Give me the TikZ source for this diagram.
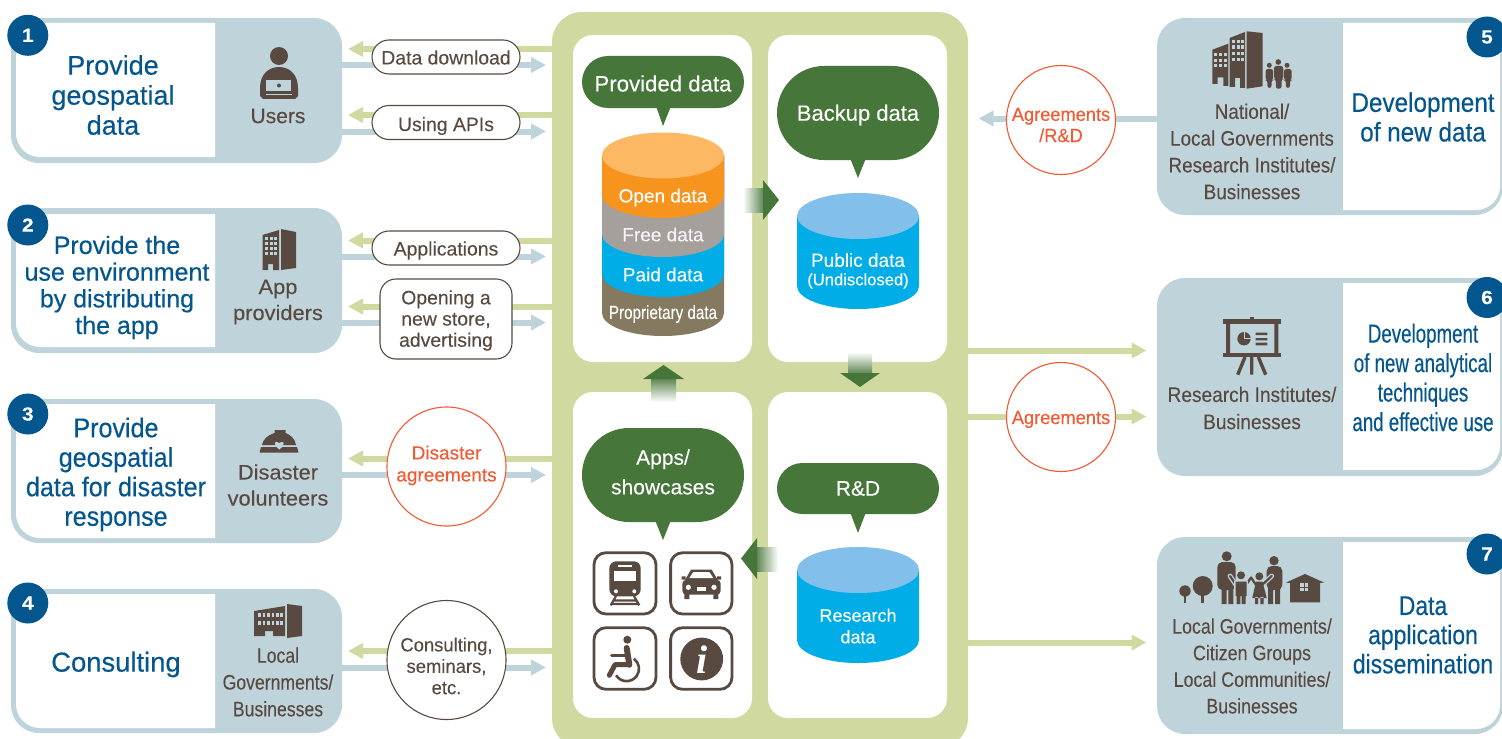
\documentclass[tikz,border=0pt]{standalone}
\usepackage{fontspec}
\setmainfont{Liberation Sans}
\newfontfamily\serifbi{Liberation Serif}[BoldItalicFont=* Bold Italic]
\usetikzlibrary{arrows.meta,fit}
\definecolor{panelc}{HTML}{BFD3DB}
\definecolor{hubc}{HTML}{D0DAA0}
\definecolor{dkgreen}{HTML}{47763A}
\definecolor{navy}{HTML}{03568E}
\definecolor{ink}{HTML}{594A41}
\definecolor{redc}{HTML}{F15A32}
\definecolor{cyltop}{HTML}{82BFEA}
\definecolor{cylblue}{HTML}{00ADE6}
\definecolor{cylorange}{HTML}{F7941D}
\definecolor{cylorangetop}{HTML}{FDB863}
\definecolor{cylgray}{HTML}{A5A09C}
\definecolor{cylbrown}{HTML}{857A5F}
\newcommand\F[3]{\fontsize{#1}{#3}\selectfont\addfontfeature{FakeStretch=#2,FakeBold=0.12}}
\newcommand\FH[3]{\fontsize{#1}{#3}\selectfont\addfontfeature{FakeStretch=#2,FakeBold=0.35}}
\tikzset{
 outerbox/.style={fill=panelc,rounded corners=14pt,inner sep=0pt,outer sep=0pt},
 hubbox/.style={fill=hubc,rounded corners=15pt,inner sep=0pt,outer sep=0pt},
 cellbox/.style={fill=white,rounded corners=10pt,inner sep=0pt,outer sep=0pt},
 bubble/.style={fill=dkgreen,inner sep=0pt,outer sep=0pt},
 pillbox/.style={fill=white,draw=ink,line width=.55pt,inner sep=0pt,outer sep=0pt},
 ringred/.style={circle,fill=white,draw=redc,line width=.55pt,inner sep=0pt,minimum size=#1},
 ringink/.style={circle,fill=white,draw=ink,line width=.55pt,inner sep=0pt,minimum size=#1},
 badge/.style={circle,fill=navy,text=white,inner sep=0pt,minimum size=20.5pt,font=\bfseries\F{9.5}{1.1}{11}},
 head/.style={text=navy,align=center,inner sep=0pt},
 who/.style={text=ink,align=center,inner sep=0pt},
 lab/.style={text=ink,align=center,inner sep=0pt},
 redlab/.style={text=redc,align=center,inner sep=0pt},
 whitelab/.style={text=white,align=center,inner sep=0pt},
 garrow/.style={draw=hubc,line width=3pt,-{Triangle[length=7.5pt,width=7.5pt]}},
 barrow/.style={draw=panelc,line width=3pt,-{Triangle[length=7.5pt,width=7.5pt]}},
 appbox/.style={draw=ink,line width=1.4pt,fill=white,rounded corners=6pt,inner sep=0pt,outer sep=0pt},
}
\newcommand\whiteL[2]{\fill[white] (215,#1) [rounded corners=12pt] -- (16,#1) -- (16,#2) [sharp corners] -- (215,#2) -- cycle;}
\newcommand\whiteR[2]{\fill[white] (1343,#1) [rounded corners=12pt] -- (1500,#1) -- (1500,#2) [sharp corners] -- (1343,#2) -- cycle;}
\newcommand\cyl[5]{\fill[#1] (#2,#4) -- (#2,#5) arc[start angle=180,end angle=360,x radius=30.5pt,y radius=11.5pt] -- (#3,#4) -- cycle;}
\newcommand\wingrid[4]{\foreach \wx in {#1} \foreach \wy in {#2} \fill[panelc] (\wx,\wy) rectangle +(#3,#4);}
\begin{document}
\begin{tikzpicture}[x=0.5pt,y=-0.5pt]
\useasboundingbox (0,0) rectangle (1502,738);
\clip (0,0) rectangle (1502,738);
% hub and cells
\node[hubbox,fit={(552,12)(968,748)}] (hub) {};
\node[cellbox,fit={(573,35)(752,362)}] (cellA) {};
\node[cellbox,fit={(768,35)(947,362)}] (cellB) {};
\node[cellbox,fit={(573,392)(752,718)}] (cellC) {};
\node[cellbox,fit={(768,392)(947,718)}] (cellD) {};
% outer panels
\node[outerbox,fit={(11,18)(342,163)}] (p1) {};
\node[outerbox,fit={(11,208)(342,353)}] (p2) {};
\node[outerbox,fit={(11,399)(342,543)}] (p3) {};
\node[outerbox,fit={(11,589)(342,733)}] (p4) {};
\node[outerbox,fit={(1157,18)(1503,215)}] (p5) {};
\node[outerbox,fit={(1157,278)(1503,476)}] (p6) {};
\node[outerbox,fit={(1157,537)(1503,734)}] (p7) {};
\whiteL{23}{157}\whiteL{214}{347}\whiteL{404}{538}\whiteL{594}{728}
\whiteR{23}{210}\whiteR{283}{470}\whiteR{542}{729}
% connector ends
\coordinate (g1) at (348,49); \coordinate (b1) at (546,65);
\coordinate (g2) at (348,115); \coordinate (b2) at (546,131.5);
\coordinate (g3) at (348,240.5); \coordinate (b3) at (546,256.5);
\coordinate (g4) at (348,306.5); \coordinate (b4) at (546,322.5);
\coordinate (g5) at (348,458.5); \coordinate (b5) at (546,475);
\coordinate (g6) at (348,651); \coordinate (b6) at (546,667.5);
\coordinate (b7) at (978.5,118.5);
\coordinate (g7) at (1146.5,350.5);
\coordinate (g8) at (1146.5,416.5);
\coordinate (g9) at (1146.5,642.5);
\foreach \n/\p in {1/p1,2/p1,3/p2,4/p2,5/p3,6/p4}{
 \draw[garrow] (hub.west |- g\n) -- (g\n);
 \draw[barrow] (\p.east |- b\n) -- (b\n);
}
\draw[barrow] (p5.west |- b7) -- (b7);
\foreach \n in {7,8,9}{\draw[garrow] (hub.east |- g\n) -- (g\n);}
% pills and circles
\node[pillbox,rounded corners=8.5pt,fit={(372,40)(520,74)}] (pillDD) {};
\node[pillbox,rounded corners=8.5pt,fit={(372,105.5)(520,139.5)}] (pillAPI) {};
\node[pillbox,rounded corners=8.5pt,fit={(372,231)(520,265)}] (pillApp) {};
\node[pillbox,rounded corners=8pt,fit={(380,279)(512,359)}] (pillOpen) {};
\node[ringred=59.5pt] (cDis) at (446.5,466.5) {};
\node[ringink=59.5pt] (cCons) at (446.5,660) {};
\node[ringred=54.5pt] (cAgR) at (1061,120) {};
\node[ringred=54.5pt] (cAg) at (1061,417) {};
\node[lab,font=\F{9.7}{1}{11}] (tDD) at (446,57.5) {Data download};
\node[lab,font=\F{9.7}{1}{11}] (tAPI) at (446,126) {Using APIs};
\node[lab,font=\F{9.7}{1}{11}] (tApp) at (446,250.5) {Applications};
\node[lab,font=\F{9.7}{1}{10.6}] (tOpen) at (446,320.5) {Opening a\\new store,\\advertising};
\node[redlab,font=\F{9.5}{1}{11}] (tDis) at (446.5,465.5) {Disaster\\agreements};
\node[lab,font=\F{9.5}{0.97}{10.7}] (tCons) at (446.5,666) {Consulting,\\seminars,\\etc.};
\node[redlab,font=\F{9.5}{0.96}{10.6}] (tAgR) at (1061,125) {Agreements\\/R\&D};
\node[redlab,font=\F{9.5}{0.96}{10.6}] (tAg) at (1061,419.5) {Agreements};
% badges
\foreach \nm/\bx/\by/\t in {bd1/27.8/35.3/1,bd2/27.8/225/2,bd3/27.8/414/3,bd4/27.8/603/4,bd5/1487/37/5,bd6/1487/297.5/6,bd7/1487/554/7}{
 \node[badge] (\nm) at (\bx,\by) {\t};
}
% headings
\node[head,font=\FH{13.5}{1}{15}] (h1) at (113,95) {Provide\\geospatial\\data};
\node[head,font=\FH{12.5}{1}{13.35}] (h2) at (117,287.5) {Provide the\\use environment\\by distributing\\the app};
\node[head,font=\FH{13.5}{0.93}{14.75}] (h3) at (116,474.5) {Provide\\geospatial\\data for disaster\\response};
\node[head,font=\FH{13.7}{1}{15}] (h4) at (116,664.5) {Consulting};
\node[head,font=\FH{13.5}{0.9}{14.8}] (h5) at (1423,117) {Development\\of new data};
\node[head,font=\FH{13}{0.72}{14.75}] (h6) at (1423,377.5) {Development\\of new analytical\\techniques\\and effective use};
\node[head,font=\FH{13.5}{0.85}{14.6}] (h7) at (1423,635) {Data\\application\\dissemination};
% who labels
\node[who,font=\F{10.5}{1}{13}] (w1) at (278,116) {Users};
\node[who,font=\F{10.5}{1.04}{13}] (w2) at (278,302) {App\\providers};
\node[who,font=\F{10.5}{1.04}{13}] (w3) at (278,485) {Disaster\\volunteers};
\node[who,font=\F{10.5}{0.84}{13.4}] (w4) at (278,682) {Local\\Governments/\\Businesses};
\node[who,font=\F{10.5}{0.9}{13.4}] (w5) at (1252,151.5) {National/\\Local Governments\\Research Institutes/\\Businesses};
\node[who,font=\F{10.5}{0.91}{13.6}] (w6) at (1252,408) {Research Institutes/\\Businesses};
\node[who,font=\F{10.5}{0.85}{13.3}] (w7) at (1252,666) {Local Governments/\\Citizen Groups\\Local Communities/\\Businesses};
% bubbles
\node[bubble,rounded corners=13pt,fit={(582,56)(744,108)}] (bProv) {};
\fill[dkgreen] (656,106) -- (671,106) -- (663,126) -- cycle;
\node[bubble,rounded corners=23.5pt,fit={(777,66)(939,160)}] (bBack) {};
\fill[dkgreen] (850,158) -- (866,158) -- (858,178) -- cycle;
\node[bubble,rounded corners=23.5pt,fit={(582,428)(744,522)}] (bApps) {};
\fill[dkgreen] (655,520) -- (671,520) -- (663,540) -- cycle;
\node[bubble,rounded corners=12.75pt,fit={(777,463)(939,514)}] (bRD) {};
\fill[dkgreen] (850,512) -- (866,512) -- (858,533) -- cycle;
\node[whitelab,font=\F{11.1}{1}{13}] (tProv) at (663,83.5) {Provided data};
\node[whitelab,font=\F{11}{1}{13}] (tBack) at (858,115) {Backup data};
\node[whitelab,font=\F{10.5}{1}{14.8}] (tApps) at (663,472) {Apps/\\showcases};
\node[whitelab,font=\F{10.5}{1}{13}] (tRD) at (858,488.5) {R\&D};
% cylinders
\cyl{cylbrown}{602}{724}{155}{313}
\cyl{cylblue}{602}{724}{155}{274}
\cyl{cylgray}{602}{724}{155}{234}
\cyl{cylorange}{602}{724}{155}{195}
\fill[cylorangetop] (663,155.5) ellipse [x radius=30.5pt,y radius=11.5pt];
\node[whitelab,font=\F{9.5}{1}{11}] (tOpenD) at (663,197.5) {Open data};
\node[whitelab,font=\F{9.5}{1}{11},text=white!92!gray] (tFree) at (663,234.5) {Free data};
\node[whitelab,font=\F{9.5}{1}{11}] (tPaid) at (663,274.5) {Paid data};
\node[whitelab,font=\F{9.5}{0.8}{11}] (tProp) at (663,314) {Proprietary data};
\cyl{cylblue}{797}{919}{216}{286}
\fill[cyltop] (858,216) ellipse [x radius=30.5pt,y radius=11.5pt];
\node[whitelab,font=\F{9.5}{1}{11}] (tPub) at (858,260) {Public data};
\node[whitelab,font=\F{8.3}{1}{10}] (tUnd) at (858,281) {(Undisclosed)};
\cyl{cylblue}{797}{919}{570}{640}
\fill[cyltop] (858,570) ellipse [x radius=30.5pt,y radius=11.5pt];
\node[whitelab,font=\F{9}{1}{10.8}] (tRes) at (858,626) {Research\\data};
% gradient block arrows
\shade[left color=white,right color=dkgreen!90] (743,188) rectangle (764,212);
\fill[dkgreen] (763,180) -- (779,200) -- (763,220) -- cycle;
\shade[top color=white,bottom color=dkgreen!90] (848,352) rectangle (872,374);
\fill[dkgreen] (840,373) -- (880,373) -- (860,387) -- cycle;
\shade[bottom color=white,top color=dkgreen!90] (651,402) rectangle (676,378);
\fill[dkgreen] (643,379) -- (684,379) -- (663.5,365) -- cycle;
\shade[right color=white,left color=dkgreen!90] (778,547) rectangle (756,571);
\fill[dkgreen] (757,538) -- (741,558.5) -- (757,579) -- cycle;
% app icons
\node[appbox,fit={(594,552.7)(656,614)}] (appTrain) {};
\node[appbox,fit={(670.6,552.7)(732,614)}] (appCar) {};
\node[appbox,fit={(594,627.7)(656,689.3)}] (appChair) {};
\node[appbox,fit={(670.6,627.7)(732,689.3)}] (appInfo) {};
% train
\fill[ink,rounded corners=3.5pt] (609.3,561.3) rectangle (640.7,596.3);
\fill[white] (614.3,571.3) rectangle (635.7,581.3);
\fill[white] (618.3,565.3) rectangle (631.7,567.3);
\fill[white] (616,591.3) circle (1pt) (634.3,591.3) circle (1pt);
\draw[ink,line width=1.1pt] (616,596) -- (610.7,605.3) (634,596) -- (639.3,605.3) (612.5,604) -- (637.5,604) (614.5,600.5) -- (635.5,600.5);
% car
\fill[ink] (685,580) -- (691,569.7) -- (711.7,569.7) -- (717.7,580) -- cycle;
\fill[white] (693.3,572) -- (709.3,572) -- (713.3,578) -- (689.3,578) -- cycle;
\fill[ink,rounded corners=2pt] (682.3,579.7) rectangle (720.7,594.7);
\fill[ink] (684.3,594) rectangle (689.3,599) (713.3,594) rectangle (718.3,599);
\fill[ink] (681.7,576.3) rectangle (685.7,579.7) (717,576.3) rectangle (721,579.7);
\fill[white] (688.3,587.3) circle (1.3pt) (714,587.3) circle (1.3pt);
\fill[white] (696.7,587.3) rectangle (706,591.3);
% wheelchair
\fill[ink] (627.3,639.7) circle (2pt);
\draw[ink,line width=3pt,line cap=round] (626.7,648) -- (629.3,664.7);
\draw[ink,line width=2.5pt,line cap=round,line join=round] (629.3,664.7) -- (615,664.7) -- (609.3,675.3);
\draw[ink,line width=1.5pt,line cap=round] (611.7,655.3) -- (625,655.3);
\draw[ink,line width=1.3pt] (633.9,658.7) arc[start angle=54,end angle=-148,radius=6.2pt];
% info
\fill[ink] (701.7,659) circle (10.7pt);
\node[text=white,inner sep=0pt,font=\serifbi\bfseries\itshape\fontsize{20}{22}\selectfont] (iInfo) at (702,659.5) {i};
% person
\fill[ink] (279,56) circle (4.5pt);
\fill[ink] (260,96) -- (260,88) .. controls (260,75) and (268,67) .. (279,67) .. controls (290,67) and (298,75) .. (298,88) -- (298,96) -- (295,99) -- (263,99) -- cycle;
\fill[panelc] (266,80) rectangle (291,91);
\fill[ink] (279,85.5) circle (1pt);
\fill[panelc] (266,94.5) rectangle (292,95.5);
% building P2
\fill[ink] (262.5,235) -- (279,230) -- (279,270) -- (273,270) -- (273,264) -- (268,264) -- (268,270) -- (262.5,270) -- cycle;
\fill[ink] (281,229) -- (296,232) -- (296,268) -- (281,270) -- cycle;
\wingrid{265,269.5,274}{237,242,247,252}{3}{3}
% helmet
\fill[ink] (262,445) .. controls (263,439) and (268,435) .. (274.5,433) -- (274.5,430) -- (285.5,430) -- (285.5,433) .. controls (291,435) and (295,439) .. (296,445) -- cycle;
\fill[ink] (261,447) -- (297,447) -- (298.5,452.5) -- (259.5,452.5) -- cycle;
\fill[panelc] (279.3,449.5) .. controls (271,443) and (276,440) .. (279.3,443) .. controls (282.6,440) and (287.6,443) .. (279.3,449.5) -- cycle;
% local building P4
\fill[ink] (254,611) -- (285,606) -- (285,636) -- (273,636) -- (273,631) -- (265,631) -- (265,636) -- (254,636) -- cycle;
\fill[ink] (287,604) -- (302,606) -- (302,636) -- (287,638) -- cycle;
\wingrid{258,262.5,267,271.5,276,280}{613,621}{2.6}{4}
% buildings P5
\fill[ink] (1212.3,49.7) -- (1228.3,43.7) -- (1228.3,86) -- (1223.3,86) -- (1223.3,77.3) -- (1217.7,77.3) -- (1217.7,84) -- (1212.3,84) -- cycle;
\fill[ink] (1229.5,38) -- (1245,32) -- (1245,88) -- (1240,88) -- (1240,78) -- (1235,78) -- (1235,87) -- (1229.5,87) -- cycle;
\fill[ink] (1246.7,31.3) -- (1262.7,33) -- (1262.7,86.3) -- (1246.7,88.7) -- cycle;
\wingrid{1214,1219,1223.7}{53,58.7,64}{3.3}{3.5}
\wingrid{1231.7,1236.7,1241}{39.7,45.3,52,58}{3}{3.5}
\fill[ink] (1269.3,65.3) circle (1.25pt) (1278.3,62) circle (1.4pt) (1287,65.3) circle (1.25pt);
\fill[ink,rounded corners=1.2pt] (1265.5,69) -- (1273.2,69) -- (1273.2,80) -- (1271.5,80) -- (1271.5,88) -- (1267.3,88) -- (1267.3,80) -- (1265.5,80) -- cycle;
\fill[ink,rounded corners=1.2pt] (1274,66) -- (1283.3,66) -- (1283.3,79) -- (1281.5,79) -- (1281.5,88.7) -- (1275.8,88.7) -- (1275.8,79) -- (1274,79) -- cycle;
\fill[ink,rounded corners=1.2pt] (1284,69) -- (1291.7,69) -- (1291.7,80) -- (1290,80) -- (1290,88) -- (1285.8,88) -- (1285.8,80) -- (1284,80) -- cycle;
% board P6
\fill[ink] (1223.3,319.3) rectangle (1280.7,323.7);
\fill[ink] (1223.3,352.7) rectangle (1280.7,357);
\fill[ink] (1226,323) rectangle (1230,353) (1274.3,323) rectangle (1278.3,353);
\fill[ink] (1250,317) rectangle (1254,320);
\fill[ink] (1244,338.7) circle (3.35pt);
\draw[panelc,line width=.3pt] (1244,338.7) -- (1244,332) (1244,338.7) -- (1250.7,338.7);
\fill[ink] (1255.7,332.7) rectangle (1267.3,335) (1255.7,338) rectangle (1267.3,340.3) (1255.7,342.7) rectangle (1267.3,345.3);
\draw[ink,line width=1.7pt] (1245,357) -- (1237.7,374.7) (1251.7,357) -- (1251.7,374.7) (1258.3,357) -- (1265.7,374.7);
% family P7
\fill[ink] (1185,591) circle (2.85pt); \fill[ink] (1184,592) rectangle (1186,603);
\fill[ink] (1202.7,586) circle (5pt); \fill[ink] (1201.2,590) rectangle (1204.2,603);
% adults
\fill[ink] (1226.7,556.3) circle (2.5pt) (1274,560.7) circle (2.35pt);
\fill[ink,rounded corners=2.5pt] (1217.3,562) -- (1235.7,562) -- (1235.7,590) -- (1217.3,590) -- cycle;
\fill[ink] (1221.7,585) rectangle (1226.7,604) (1228.3,585) rectangle (1233.3,604);
\fill[ink,rounded corners=2.5pt] (1266.7,566) -- (1282.3,566) -- (1282.3,590) -- (1266.7,590) -- cycle;
\fill[ink] (1268,585) rectangle (1273,604) (1275,585) rectangle (1280,604);
% kids, outlined against the adults
\draw[panelc,line width=2.4pt,line join=round,line cap=round] (1230,576) -- (1236,585) -- (1246,585) -- (1251,577.5) -- (1256,585) -- (1262,585) -- (1271.7,576);
\draw[ink,line width=1.1pt,line join=round,line cap=round] (1230,576) -- (1236,585) -- (1246,585) -- (1251,577.5) -- (1256,585) -- (1262,585) -- (1271.7,576);
\fill[panelc] (1234,581) rectangle (1247.7,590);
\fill[ink] (1235.5,581.5) rectangle (1246.5,596) (1236.5,595) rectangle (1240.3,604) (1241.7,595) rectangle (1245.5,604);
\fill[ink] (1241,575.3) circle (2pt) (1259.3,576.3) circle (2pt);
\fill[ink] (1256,581.5) -- (1262.5,581.5) -- (1266.7,598) -- (1252.3,598) -- cycle (1255,597) rectangle (1258.2,604) (1260.3,597) rectangle (1263.5,604);
% house
\fill[ink] (1286,582.5) -- (1305,574) -- (1324,582.5) -- (1320,583) -- (1320,602.3) -- (1290,602.3) -- (1290,583) -- cycle;
\wingrid{1300.3,1304.8}{583.2,587.7}{3.6}{3.6}
\end{tikzpicture}
\end{document}
